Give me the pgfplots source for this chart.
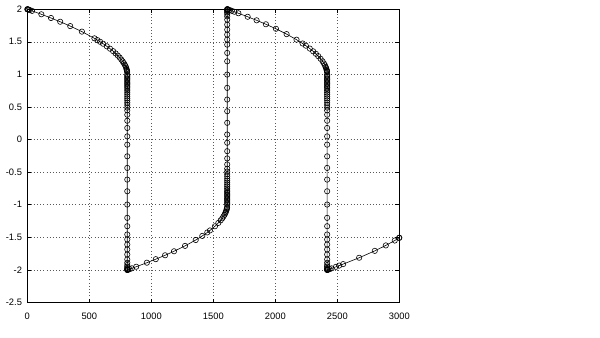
\documentclass[border=0pt]{standalone}
\usepackage{pgfplots}
\pgfplotsset{compat=1.18}
\usepackage{fontspec}
\setmainfont{Liberation Sans}
\begin{document}
\begin{tikzpicture}[x=1pt,y=1pt]
\path[use as bounding box] (0,0) rectangle (450,253.5);
\begin{axis}[at={(20.5pt,26.6pt)}, anchor=south west, scale only axis,
  width=279pt, height=220pt,
  xmin=0, xmax=3000, ymin=-2.5, ymax=2,
  xtick={0,500,1000,1500,2000,2500,3000},
  ytick={-2.5,-2,-1.5,-1,-0.5,0,0.5,1,1.5,2},
  xticklabels={0,500,1000,1500,2000,2500,3000},
  yticklabels={-2.5,-2,-1.5,-1,-0.5,0,0.5,1,1.5,2},
  grid=major,
  major grid style={black!65, dash pattern=on 0.6pt off 1.8pt, line width=0.4pt},
  tick align=inside, major tick length=3pt,
  tick style={black, line width=0.4pt},
  axis line style={line width=0.5pt},
  ticklabel style={font=\fontsize{7}{8}\selectfont},
  xticklabel style={yshift=-4pt},
  yticklabel style={xshift=-0.5pt},
  clip=false]
\addplot[black, line width=0.45pt, mark=o, mark size=2pt, mark options={line width=0.45pt}] coordinates {
(0,2.0) (2,1.9987) (5,1.9967) (10,1.9933) (20,1.9866) (38,1.9745) (113,1.922) (191,1.865) (265,1.8075) (346,1.741) (440,1.656) (541,1.553) (565,1.526) (587,1.5) (611,1.47) (641,1.431) (667,1.394) (692,1.356) (712,1.321) (730,1.288) (745,1.258) (758,1.227) (769,1.2) (778,1.173) (786,1.148) (792,1.126) (797,1.101) (800,1.081) (802,1.067) (804,1.053) (805,1.038)
(806,1.0) (806,0.98) (806,0.96) (806,0.94) (806,0.92) (806,0.90) (806,0.88) (806,0.86) (806,0.84) (806,0.82) (806,0.80) (806,0.775) (806,0.75) (806,0.72) (806,0.69) (806,0.66) (806,0.63) (806,0.60) (806,0.565) (806,0.53) (806,0.49) (806,0.447) (806,0.381) (806,0.289) (806,0.178) (806,0.049) (806,-0.078) (806,-0.257) (806,-0.435) (806,-0.614) (806,-0.793) (806,-0.997) (806,-1.201) (806,-1.329) (806,-1.456) (806,-1.533) (806,-1.610) (806,-1.686) (806,-1.763) (806,-1.839) (806,-1.890) (806,-1.925) (806,-1.95) (806,-1.97) (806,-1.985) (806,-1.995) (806,-2.0)
(807,-1.9993) (809,-1.998) (814,-1.9947) (826,-1.9866) (843,-1.9751) (878,-1.951) (964,-1.889) (1036,-1.835) (1111,-1.775) (1183,-1.7135) (1272,-1.631) (1358,-1.541) (1411,-1.478) (1451,-1.425) (1473,-1.394) (1513,-1.33) (1540,-1.28) (1559,-1.2395) (1572,-1.208) (1582,-1.179) (1590,-1.154) (1596,-1.1305) (1601,-1.109) (1605,-1.0875) (1608,-1.067) (1610,-1.053) (1611,-1.038)
(1612,-1.0) (1612,-0.98) (1612,-0.96) (1612,-0.94) (1612,-0.92) (1612,-0.90) (1612,-0.88) (1612,-0.86) (1612,-0.84) (1612,-0.82) (1612,-0.80) (1612,-0.775) (1612,-0.75) (1612,-0.72) (1612,-0.69) (1612,-0.66) (1612,-0.63) (1612,-0.60) (1612,-0.565) (1612,-0.53) (1612,-0.49) (1612,-0.447) (1612,-0.381) (1612,-0.289) (1612,-0.178) (1612,-0.049) (1612,0.078) (1612,0.257) (1612,0.435) (1612,0.614) (1612,0.793) (1612,0.997) (1612,1.201) (1612,1.329) (1612,1.456) (1612,1.533) (1612,1.610) (1612,1.686) (1612,1.763) (1612,1.839) (1612,1.890) (1612,1.925) (1612,1.95) (1612,1.97) (1612,1.985) (1612,1.995) (1612,2.0)
(1613,1.9993) (1615,1.998) (1620,1.9947) (1632,1.9866) (1649,1.9751) (1670,1.9608) (1702,1.938) (1777,1.884) (1849,1.8295) (1924,1.769) (2005,1.6996) (2091,1.6177) (2171,1.5326) (2220,1.474) (2246,1.4406) (2278,1.396) (2305,1.354) (2327,1.316) (2346,1.28) (2365,1.2395) (2381,1.2005) (2392,1.1667) (2400,1.139) (2406,1.1136) (2410,1.0944) (2413,1.0736) (2415,1.0597) (2416,1.0528) (2417,1.038)
(2418,1.0) (2418,0.98) (2418,0.96) (2418,0.94) (2418,0.92) (2418,0.90) (2418,0.88) (2418,0.86) (2418,0.84) (2418,0.82) (2418,0.80) (2418,0.775) (2418,0.75) (2418,0.72) (2418,0.69) (2418,0.66) (2418,0.63) (2418,0.60) (2418,0.565) (2418,0.53) (2418,0.49) (2418,0.447) (2418,0.381) (2418,0.289) (2418,0.178) (2418,0.049) (2418,-0.078) (2418,-0.257) (2418,-0.435) (2418,-0.614) (2418,-0.793) (2418,-0.997) (2418,-1.201) (2418,-1.329) (2418,-1.456) (2418,-1.533) (2418,-1.610) (2418,-1.686) (2418,-1.763) (2418,-1.839) (2418,-1.890) (2418,-1.925) (2418,-1.95) (2418,-1.97) (2418,-1.985) (2418,-1.995) (2418,-2.0)
(2419,-1.9993) (2421,-1.998) (2426,-1.9947) (2438,-1.9866) (2454,-1.9758) (2489,-1.9521) (2515,-1.933) (2547,-1.9105) (2676,-1.813) (2802,-1.7074) (2891,-1.6237) (2963,-1.5487) (2998,-1.5084) (3000,-1.506)
};
\end{axis}
\end{tikzpicture}
\end{document}
